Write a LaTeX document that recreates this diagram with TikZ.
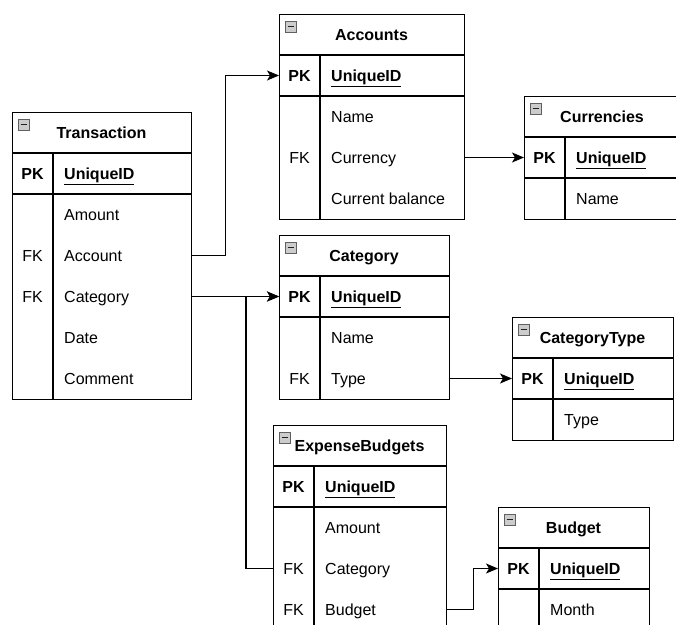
\documentclass[tikz,border=0pt]{standalone}
\usepackage{fontspec}
\setmainfont{Liberation Sans}
\usetikzlibrary{arrows.meta,calc}
\tikzset{
  every node/.style={font=\fontsize{16}{19}\selectfont, inner sep=0pt, text height=13pt, text depth=1.5pt},
  outline/.style={draw, line width=1.3pt, anchor=north west, inner sep=0pt, text height=, text depth=},
  sep/.style={line width=1.3pt},
  titletext/.style={font=\fontsize{16}{19}\selectfont\bfseries},
  keytext/.style={anchor=center},
  pktext/.style={font=\fontsize{16}{19}\selectfont\bfseries},
  fieldtext/.style={anchor=west},
  iconbox/.style={fill=gray!40, draw=gray!75!black, line width=0.6pt},
  link/.style={line width=1.3pt, -{Stealth[length=12pt,width=10pt,inset=3pt]}}
}
% #1 id, #2 x, #3 y, #4 width, #5 title, #6 number of rows
\newcommand\ertable[6]{%
  \node[outline, minimum width=#4pt, minimum height={82pt+41pt*#6}] (#1) at (#2,#3) {};
  \draw[sep] (#2,#3+41) -- ++(#4,0);
  \draw[sep] (#2,#3+82) -- ++(#4,0);
  \draw[sep] (#2+41,#3+41) -- (#2+41,{#3+82+41*#6});
  \node[titletext] (#1-t) at ({#2+#4/2},#3+20.5) {#5};
  \draw[iconbox] (#2+6,#3+7) rectangle ++(11,11);
  \draw[line width=1.2pt, gray!25!black] (#2+8.5,#3+12.5) -- ++(6,0);
  \node[pktext] (#1-pkk) at (#2+20.5,#3+61.5) {PK};
  \node[pktext, anchor=west] (#1-pk) at (#2+52,#3+61.5) {\underline{UniqueID}};
}
% #1 id, #2 x, #3 y, #4 row index, #5 key, #6 field
\newcommand\errow[6]{%
  \node[keytext] (#1-k#4) at (#2+20.5,{#3+82+41*(#4-0.5)}) {#5};
  \node[fieldtext] (#1-r#4) at (#2+52,{#3+82+41*(#4-0.5)}) {#6};
}
\begin{document}
\begin{tikzpicture}[x=1pt,y=-1pt]
\useasboundingbox (0,0) rectangle (676,624);
\clip (0,0) rectangle (676,624);
\fill[white] (0,0) rectangle (676,624);

% Transaction
\ertable{T}{12}{112}{179}{Transaction}{5}
\errow{T}{12}{112}{1}{}{Amount}
\errow{T}{12}{112}{2}{FK}{Account}
\errow{T}{12}{112}{3}{FK}{Category}
\errow{T}{12}{112}{4}{}{Date}
\errow{T}{12}{112}{5}{}{Comment}

% Accounts
\ertable{A}{279}{14}{185}{Accounts}{3}
\errow{A}{279}{14}{1}{}{Name}
\errow{A}{279}{14}{2}{FK}{Currency}
\errow{A}{279}{14}{3}{}{Current balance}

% Currencies
\ertable{Cu}{524}{96}{156}{Currencies}{1}
\errow{Cu}{524}{96}{1}{}{Name}

% Category
\ertable{Ca}{279}{235}{170}{Category}{2}
\errow{Ca}{279}{235}{1}{}{Name}
\errow{Ca}{279}{235}{2}{FK}{Type}

% CategoryType
\ertable{CT}{512}{317}{161}{CategoryType}{1}
\errow{CT}{512}{317}{1}{}{Type}

% ExpenseBudgets
\ertable{E}{273}{425}{173}{ExpenseBudgets}{3}
\errow{E}{273}{425}{1}{}{Amount}
\errow{E}{273}{425}{2}{FK}{Category}
\errow{E}{273}{425}{3}{FK}{Budget}

% Budget
\ertable{B}{498}{507}{151}{Budget}{1}
\errow{B}{498}{507}{1}{}{Month}

% Connectors
\draw[link] (T.east |- T-r2) -- ++(33,0) |- (A.west |- A-pk);
\draw[link] (A.east |- A-r2) -- (Cu.west |- Cu-pk);
\draw[link] (T.east |- T-r3) -- (Ca.west |- Ca-pk);
\draw[link] (Ca.east |- Ca-r2) -- (CT.west |- CT-pk);
\draw[link] (E.west |- E-r2) -- ++(-27,0) |- (Ca.west |- Ca-pk);
\draw[link] (E.east |- E-r3) -- ++(26,0) |- (B.west |- B-pk);
\end{tikzpicture}
\end{document}
